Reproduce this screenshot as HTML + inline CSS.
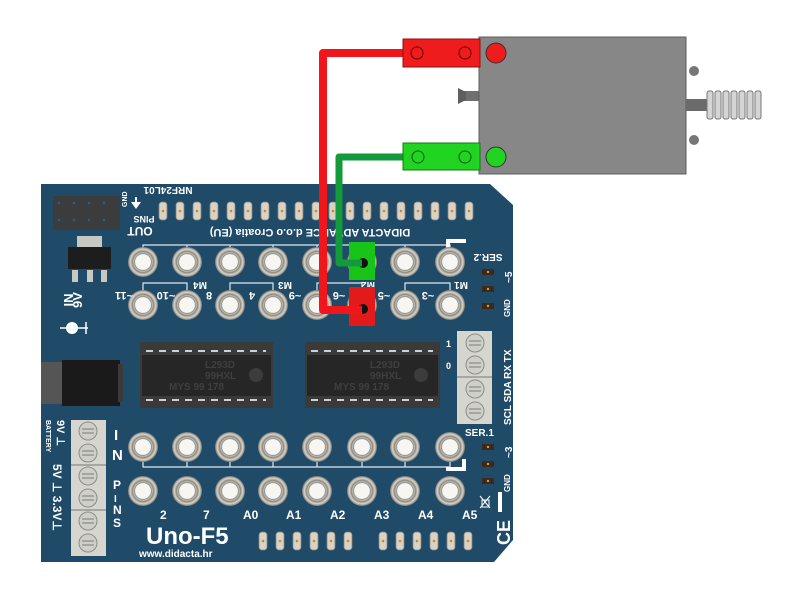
<!DOCTYPE html>
<html><head><meta charset="utf-8"><style>
html,body{margin:0;padding:0;background:#fff;width:800px;height:600px;overflow:hidden}
text{font-family:"Liberation Sans",Arial,sans-serif;font-weight:bold;fill:#fff}
</style></head><body>
<svg width="800" height="600" viewBox="0 0 800 600" xmlns="http://www.w3.org/2000/svg">
<defs>
<radialGradient id="pin" cx="50%" cy="50%" r="50%">
<stop offset="0" stop-color="#fff"/><stop offset="0.55" stop-color="#f4f2ee"/><stop offset="0.7" stop-color="#8a877f"/><stop offset="0.85" stop-color="#d8d5cd"/><stop offset="1" stop-color="#77746d"/>
</radialGradient>
<g id="p"><circle r="15" fill="url(#pin)"/><circle r="8.5" fill="#f7f6f2" stroke="#9c998f" stroke-width="1.2"/></g>
<g id="hd"><rect x="-4" y="-9" width="8" height="18" rx="3" fill="#d8d3c4" stroke="#8c877a" stroke-width="0.8"/><circle r="1.3" fill="#c98a2c"/></g>
<g id="sc"><circle r="9" fill="#cfcfc9" stroke="#8d8d87"/><path d="M-6 -2H6M-6 2H6" stroke="#8d8d87" stroke-width="1.2"/></g>
<g id="sp"><rect x="-6" y="-3" width="12" height="6" fill="#3b2a1c"/><circle r="1.2" fill="#d49a3a"/></g>
</defs>

<path d="M41 184 H490 L513 205 V540 L494 562 H41 Z" fill="#1f4a68"/>

<g>
<use href="#hd" x="163" y="211"/><use href="#hd" x="180" y="211"/><use href="#hd" x="197" y="211"/><use href="#hd" x="214" y="211"/><use href="#hd" x="231" y="211"/><use href="#hd" x="248" y="211"/><use href="#hd" x="265" y="211"/><use href="#hd" x="282" y="211"/><use href="#hd" x="299" y="211"/><use href="#hd" x="316" y="211"/><use href="#hd" x="333" y="211"/><use href="#hd" x="350" y="211"/><use href="#hd" x="367" y="211"/><use href="#hd" x="384" y="211"/><use href="#hd" x="401" y="211"/><use href="#hd" x="418" y="211"/><use href="#hd" x="435" y="211"/><use href="#hd" x="452" y="211"/><use href="#hd" x="469" y="211"/>
</g>
<g>
<use href="#hd" x="263" y="541"/><use href="#hd" x="280" y="541"/><use href="#hd" x="297" y="541"/><use href="#hd" x="314" y="541"/><use href="#hd" x="331" y="541"/><use href="#hd" x="348" y="541"/>
<use href="#hd" x="383" y="541"/><use href="#hd" x="400" y="541"/><use href="#hd" x="417" y="541"/><use href="#hd" x="434" y="541"/><use href="#hd" x="451" y="541"/><use href="#hd" x="468" y="541"/>
</g>

<rect x="53" y="196" width="67" height="34" fill="#3a3c3e"/>
<g fill="#2f5d80"><circle cx="59" cy="203" r="1.3"/><circle cx="74" cy="203" r="1.3"/><circle cx="89" cy="203" r="1.3"/><circle cx="104" cy="203" r="1.3"/><circle cx="59" cy="220" r="1.3"/><circle cx="74" cy="220" r="1.3"/><circle cx="89" cy="220" r="1.3"/><circle cx="104" cy="220" r="1.3"/></g>
<text transform="translate(168 187) rotate(180)" text-anchor="middle" font-size="10">NRF24L01</text>
<text transform="translate(144 216) rotate(180)" text-anchor="middle" font-size="9">PINS</text>
<text transform="translate(140 227) rotate(180)" text-anchor="middle" font-size="12">OUT</text>
<text transform="translate(127 207) rotate(-90)" font-size="7">GND</text>
<path d="M136 209 l-5 -7 h10z" fill="#fff"/><rect x="135" y="197" width="2" height="6" fill="#fff"/>

<rect x="77" y="236" width="25" height="11" fill="#c8c8c2"/>
<rect x="68" y="247" width="43" height="22" fill="#1d1d1d"/>
<rect x="72" y="270" width="6" height="12" fill="#c8c8c2"/><rect x="87" y="270" width="6" height="12" fill="#c8c8c2"/><rect x="101" y="270" width="6" height="12" fill="#c8c8c2"/>
<text transform="translate(82 300) rotate(-90)" font-size="13" text-anchor="middle">9V</text>
<text transform="translate(73 300) rotate(-90)" font-size="13" text-anchor="middle">IN</text>
<circle cx="72" cy="328" r="6" fill="#fff"/><path d="M60 328h6M78 328h10M86 322v12" stroke="#fff" stroke-width="1.5"/>

<rect x="41" y="362" width="22" height="42" fill="#555"/>
<rect x="62" y="360" width="58" height="46" fill="#1a1a1a"/>
<rect x="118" y="364" width="5" height="38" fill="#3a3a3a"/>

<text transform="translate(310 229) rotate(180)" text-anchor="middle" font-size="11">DIDACTA ADVANCE d.o.o Croatia (EU)</text>

<g stroke="#dfe8ee" stroke-width="1.2" fill="none">
<path d="M143 252 V245 H450 V252"/><path d="M187 245v5M230 245v5M273 245v5M317 245v5M362 245v5M405 245v5"/>
<path d="M143 290 V283 H187 V290"/><path d="M230 290 V283 H273 V290"/><path d="M317 290 V283 H362 V290"/><path d="M405 290 V283 H450 V290"/>
<path d="M143 462 V467 H450 V462"/><path d="M187 462v5M230 462v5M273 462v5M317 462v5M362 462v5M405 462v5"/>
</g>
<rect x="446" y="239" width="20" height="4" fill="#fff"/><rect x="446" y="239" width="4" height="12" fill="#fff"/>
<rect x="446" y="467" width="20" height="4" fill="#fff"/><rect x="462" y="459" width="4" height="12" fill="#fff"/>

<g>
<use href="#p" x="143" y="262"/><use href="#p" x="187" y="262"/><use href="#p" x="230" y="262"/><use href="#p" x="273" y="262"/><use href="#p" x="317" y="262"/><use href="#p" x="362" y="262"/><use href="#p" x="405" y="262"/><use href="#p" x="450" y="262"/>
<use href="#p" x="143" y="305"/><use href="#p" x="187" y="305"/><use href="#p" x="230" y="305"/><use href="#p" x="273" y="305"/><use href="#p" x="317" y="305"/><use href="#p" x="362" y="305"/><use href="#p" x="405" y="305"/><use href="#p" x="450" y="305"/>
<use href="#p" x="143" y="447"/><use href="#p" x="187" y="447"/><use href="#p" x="230" y="447"/><use href="#p" x="273" y="447"/><use href="#p" x="317" y="447"/><use href="#p" x="362" y="447"/><use href="#p" x="405" y="447"/><use href="#p" x="450" y="447"/>
<use href="#p" x="143" y="491"/><use href="#p" x="187" y="491"/><use href="#p" x="230" y="491"/><use href="#p" x="273" y="491"/><use href="#p" x="317" y="491"/><use href="#p" x="362" y="491"/><use href="#p" x="405" y="491"/><use href="#p" x="450" y="491"/>
</g>
<g font-size="11" text-anchor="middle">
<text transform="translate(124 292) rotate(180)">~11</text>
<text transform="translate(166 292) rotate(180)">~10</text>
<text transform="translate(209 292) rotate(180)">8</text>
<text transform="translate(252 292) rotate(180)">4</text>
<text transform="translate(295 292) rotate(180)">~9</text>
<text transform="translate(339 292) rotate(180)">~6</text>
<text transform="translate(384 292) rotate(180)">~5</text>
<text transform="translate(428 292) rotate(180)">~3</text>
<text transform="translate(200 282) rotate(180)" font-size="10">M4</text>
<text transform="translate(285 282) rotate(180)" font-size="10">M3</text>
<text transform="translate(368 282) rotate(180)" font-size="10">M2</text>
<text transform="translate(461 282) rotate(180)" font-size="10">M1</text>
</g>
<g font-size="12">
<text x="160" y="519">2</text><text x="203" y="519">7</text><text x="243" y="519">A0</text><text x="286" y="519">A1</text><text x="330" y="519">A2</text><text x="374" y="519">A3</text><text x="418" y="519">A4</text><text x="462" y="519">A5</text>
</g>
<text x="114" y="440" font-size="15">I</text><text x="112" y="460" font-size="15">N</text>
<text x="113" y="489" font-size="12">P</text><text x="114" y="502" font-size="10">I</text><text x="113" y="514" font-size="12">N</text><text x="113" y="527" font-size="12">S</text>
<text x="146" y="544" font-size="24">Uno-F5</text>
<text x="139" y="557" font-size="10">www.didacta.hr</text>

<g>
<rect x="140" y="342" width="133" height="66" fill="#3a3a3a"/>
<rect x="142" y="355" width="129" height="41" fill="#262626"/>
<path d="M146 351h120M146 400h120" stroke="#cfcfcf" stroke-width="2" stroke-dasharray="7 6"/>
<circle cx="256" cy="375" r="7" fill="#3c3c3c"/>
<g font-size="10" font-weight="normal"><text x="205" y="368" style="fill:#3f3f3f">L293D</text><text x="205" y="379" style="fill:#3f3f3f">99HXL</text><text x="169" y="390" style="fill:#3f3f3f">MYS  99 178</text></g>
</g>
<g>
<rect x="305" y="342" width="135" height="66" fill="#3a3a3a"/>
<rect x="307" y="355" width="131" height="41" fill="#262626"/>
<path d="M311 351h122M311 400h122" stroke="#cfcfcf" stroke-width="2" stroke-dasharray="7 6"/>
<circle cx="421" cy="375" r="7" fill="#3c3c3c"/>
<g font-size="10" font-weight="normal"><text x="370" y="368" style="fill:#3f3f3f">L293D</text><text x="370" y="379" style="fill:#3f3f3f">99HXL</text><text x="334" y="390" style="fill:#3f3f3f">MYS  99 178</text></g>
</g>

<rect x="457" y="331" width="35" height="93" fill="#d6d6cf"/>
<path d="M457 377H492" stroke="#777" stroke-width="1"/>
<use href="#sc" x="475" y="343"/><use href="#sc" x="475" y="365"/><use href="#sc" x="475" y="389"/><use href="#sc" x="475" y="411"/>
<text x="446" y="347" font-size="9">1</text><text x="446" y="369" font-size="9">0</text>
<text transform="translate(511 425) rotate(-90)" font-size="10">SCL SDA RX TX</text>
<text x="465" y="436" font-size="10">SER.1</text>
<text transform="translate(488 254) rotate(180)" text-anchor="middle" font-size="10">SER.2</text>
<use href="#sp" x="488" y="272"/><use href="#sp" x="488" y="289"/><use href="#sp" x="488" y="306"/>
<text transform="translate(512 283) rotate(-90)" font-size="10">~5</text>
<text transform="translate(510 317) rotate(-90)" font-size="8">GND</text>
<use href="#sp" x="488" y="447"/><use href="#sp" x="488" y="464"/><use href="#sp" x="488" y="481"/>
<text transform="translate(512 458) rotate(-90)" font-size="10">~3</text>
<text transform="translate(510 492) rotate(-90)" font-size="8">GND</text>
<path d="M480 496l10 12M490 496l-10 12" stroke="#fff"/><rect x="482" y="500" width="7" height="7" fill="none" stroke="#fff"/>
<rect x="498" y="492" width="4" height="20" fill="#fff"/>
<text transform="translate(510 545) rotate(-90)" font-size="18">CE</text>

<rect x="71" y="420" width="35" height="136" fill="#d6d6cf"/>
<path d="M71 465H106M71 510H106" stroke="#777"/>
<use href="#sc" x="88" y="431"/><use href="#sc" x="88" y="453"/><use href="#sc" x="88" y="476"/><use href="#sc" x="88" y="498"/><use href="#sc" x="88" y="521"/><use href="#sc" x="88" y="543"/>
<text transform="translate(57 420) rotate(90)" font-size="11">9V ⊥</text>
<text transform="translate(46 420) rotate(90)" font-size="7">BATTERY</text>
<text transform="translate(53 464) rotate(90)" font-size="12">5V  ⊥ 3.3V⊥</text>

<rect x="349" y="242" width="26" height="38" fill="#18c418"/>
<rect x="349" y="287" width="26" height="39" fill="#e21a1a"/>
<circle cx="363" cy="263" r="5" fill="#111"/>
<circle cx="363" cy="309" r="5" fill="#111"/>

<path d="M405 157 H339 V263 H362" fill="none" stroke="#139a3a" stroke-width="7" stroke-linejoin="round"/>
<path d="M405 53 H323 V310 H362" fill="none" stroke="#f0161b" stroke-width="8" stroke-linejoin="round"/>

<rect x="458" y="91" width="22" height="10" fill="#707070"/>
<path d="M458 88 V104 L466 100 V92 Z" fill="#5f5f5f"/>
<rect x="479" y="37" width="207" height="137" fill="#878787" stroke="#5c5c5c"/>
<circle cx="694" cy="71" r="5" fill="#777"/><circle cx="694" cy="140" r="5" fill="#777"/>
<rect x="686" y="99" width="22" height="12" fill="#6b6b6b"/>
<g fill="#d5d5d5" stroke="#777"><rect x="707" y="91" width="6" height="28" rx="2"/><rect x="715" y="91" width="6" height="28" rx="2"/><rect x="723" y="91" width="6" height="28" rx="2"/><rect x="731" y="91" width="6" height="28" rx="2"/><rect x="739" y="91" width="6" height="28" rx="2"/><rect x="747" y="91" width="6" height="28" rx="2"/><rect x="755" y="91" width="6" height="28" rx="2"/></g>
<rect x="403" y="39" width="77" height="28" fill="#ee1c1c" stroke="#8a1010"/>
<rect x="403" y="143" width="77" height="27" fill="#22d422" stroke="#137a13"/>
<g fill="none" stroke="#6a0000"><circle cx="417" cy="53" r="6"/><circle cx="465" cy="53" r="6"/></g>
<g fill="none" stroke="#0a5a0a"><circle cx="418" cy="157" r="6"/><circle cx="465" cy="157" r="6"/></g>
<circle cx="496" cy="53" r="10" fill="#ee1c1c" stroke="#333"/>
<circle cx="496" cy="157" r="10" fill="#22d422" stroke="#333"/>
</svg>
</body></html>
